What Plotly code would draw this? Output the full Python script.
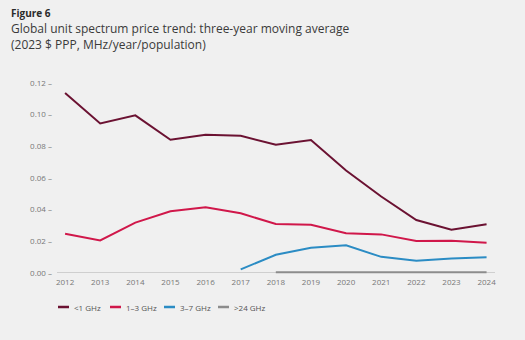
import plotly.graph_objects as go

years = list(range(2012, 2025))
below_1ghz = [0.1137, 0.0944, 0.0995, 0.0841, 0.0873, 0.0866, 0.0809, 0.0839, 0.0646, 0.0482, 0.0334, 0.0273, 0.0307]
ghz_1_3 = [0.0247, 0.0205, 0.0317, 0.0389, 0.0414, 0.0376, 0.0309, 0.0304, 0.0250, 0.0243, 0.0201, 0.0203, 0.0190]
years_3_7 = list(range(2017, 2025))
ghz_3_7 = [0.0022, 0.0114, 0.0158, 0.0174, 0.0101, 0.0076, 0.0091, 0.0099]
years_24 = list(range(2018, 2025))
above_24ghz = [0.0003, 0.0003, 0.0003, 0.0003, 0.0003, 0.0003, 0.0003]

series_names = ["<1 GHz", "1–3 GHz", "3–7 GHz", ">24 GHz"]
colors = ["#6B1232", "#D0174A", "#2B8CC4", "#8C8C8C"]

y_tickvals = [0.00, 0.02, 0.04, 0.06, 0.08, 0.10, 0.12]
y_ticktext = [f"{v:.2f} \u2013" for v in y_tickvals]

BG = "#F0F0F0"
FONT = "Open Sans"

# plot area geometry (px)
L, R, T, B = 57, 30, 75, 64
W, H = 525, 340
PW, PH = W - L - R, H - T - B


def px_x(x):
    return (x - L) / PW


def px_y(y):
    return (H - B - y) / PH


fig = go.Figure()
for xs, ys, name, c in [
    (years, below_1ghz, series_names[0], colors[0]),
    (years, ghz_1_3, series_names[1], colors[1]),
    (years_3_7, ghz_3_7, series_names[2], colors[2]),
    (years_24, above_24ghz, series_names[3], colors[3]),
]:
    fig.add_trace(go.Scatter(x=xs, y=ys, mode="lines", name=name,
                             line=dict(color=c, width=2), showlegend=False))

# titles
fig.add_annotation(text="<b>Figure 6</b>", xref="paper", yref="paper",
                   x=px_x(9), y=px_y(13), xanchor="left", yanchor="middle",
                   showarrow=False, font=dict(family=FONT, size=10, color="#2A2A2A"))
fig.add_annotation(text="Global unit spectrum price trend: three-year moving average<br>"
                        "(2023 $ PPP, MHz/year/population)",
                   xref="paper", yref="paper", x=px_x(9), y=px_y(18), xanchor="left",
                   yanchor="top", align="left", showarrow=False,
                   font=dict(family=FONT, size=12, color="#3A3A3A"))

# custom legend (short swatches like the reference)
legend_x = [58, 110, 164, 218]
legend_y = 307
for x0, name, c in zip(legend_x, series_names, colors):
    fig.add_shape(type="line", xref="paper", yref="paper",
                  x0=px_x(x0), x1=px_x(x0 + 11), y0=px_y(legend_y), y1=px_y(legend_y),
                  line=dict(color=c, width=2.5))
    fig.add_annotation(text=name, xref="paper", yref="paper", x=px_x(x0 + 14),
                       y=px_y(legend_y), xanchor="left", yanchor="middle", showarrow=False,
                       font=dict(family=FONT, size=8, color="#555555"))

fig.update_layout(
    width=W, height=H,
    paper_bgcolor=BG, plot_bgcolor=BG,
    margin=dict(l=L, r=R, t=T, b=B, pad=0),
    font=dict(family=FONT, color="#777777", size=8),
    showlegend=False,
)
fig.update_xaxes(range=[2011.77, 2024.24], tickvals=years, showgrid=False,
                 zeroline=False, showline=False, ticks="",
                 tickfont=dict(size=8, color="#777777"))
fig.update_yaxes(range=[-0.002, 0.125], tickvals=y_tickvals, ticktext=y_ticktext,
                 showgrid=False, zeroline=True, zerolinecolor="#CFCFCF", zerolinewidth=1,
                 showline=False, ticks="", ticklabelstandoff=4,
                 tickfont=dict(size=8, color="#777777"))

fig.write_html("out.html")
